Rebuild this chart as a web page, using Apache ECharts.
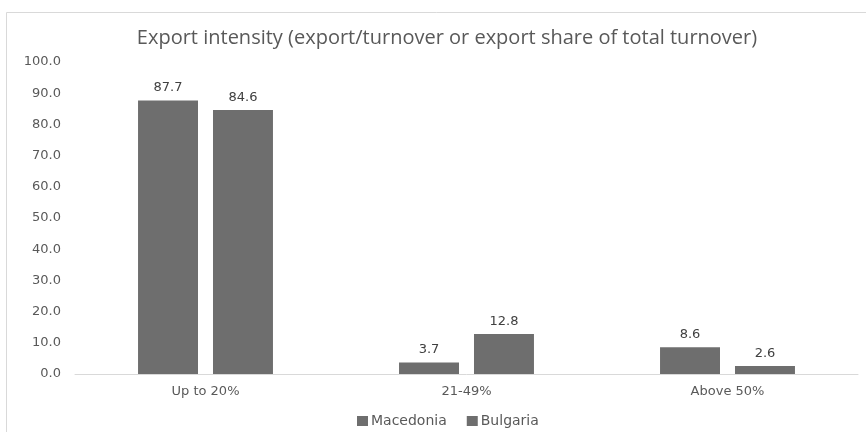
<!DOCTYPE html>
<html>
<head>
<meta charset="utf-8">
<script src="https://cdn.jsdelivr.net/npm/echarts@6/dist/echarts.min.js"></script>
<style>
  html, body { margin: 0; padding: 0; background: #ffffff; }
  #chart { width: 866px; height: 432px; }
</style>
</head>
<body>
<div id="chart"></div>
<script>
// Export intensity bands and the share of firms in each, by country
const categories = ['Up to 20%', '21-49%', 'Above 50%'];
const macedonia = [87.7, 3.7, 8.6];
const bulgaria = [84.6, 12.8, 2.6];
const yTicks = { min: 0, max: 100, interval: 10 };

const chart = echarts.init(document.getElementById('chart'), null, { renderer: 'canvas' });

const labelFont = 'DejaVu Sans, Verdana, sans-serif';
const textGrey = '#595959';
const barGrey = '#6e6e6e';

const valueLabel = {
  show: true,
  position: 'top',
  distance: 6,
  color: '#404040',
  fontFamily: labelFont,
  fontSize: 13,
  formatter: p => p.value.toFixed(1)
};

chart.setOption({
  animation: false,
  backgroundColor: '#ffffff',
  title: {
    text: 'Export intensity (export/turnover or export share of total turnover)',
    left: 442,
    textAlign: 'center',
    top: 23,
    textStyle: {
      fontFamily: 'Open Sans, Noto Sans, sans-serif',
      fontWeight: 'normal',
      fontSize: 20,
      color: textGrey
    }
  },
  graphic: [{
    type: 'rect',
    shape: { x: 6.5, y: 12.5, width: 900, height: 440 },
    style: { fill: 'none', stroke: '#d9d9d9', lineWidth: 1 },
    silent: true
  }],
  legend: {
    data: ['Macedonia', 'Bulgaria'],
    top: 409,
    left: 352,
    itemWidth: 11,
    itemHeight: 10,
    itemGap: 20,
    icon: 'rect',
    textStyle: { fontFamily: labelFont, fontSize: 14, color: textGrey, padding: [0, 0, 0, -2] }
  },
  grid: { left: 75, right: 8, top: 62, bottom: 58 },
  xAxis: {
    type: 'category',
    data: categories,
    axisLine: { lineStyle: { color: '#d9d9d9' } },
    axisTick: { show: false },
    axisLabel: { fontFamily: labelFont, fontSize: 13, color: textGrey, margin: 11 }
  },
  yAxis: {
    type: 'value',
    min: yTicks.min,
    max: yTicks.max,
    interval: yTicks.interval,
    axisLine: { show: false },
    axisTick: { show: false },
    splitLine: { show: false },
    axisLabel: {
      fontFamily: labelFont,
      fontSize: 13,
      color: textGrey,
      margin: 14,
      formatter: v => v.toFixed(1)
    }
  },
  series: [
    {
      name: 'Macedonia',
      type: 'bar',
      data: macedonia,
      barGap: '25%',
      barCategoryGap: '48.3%',
      itemStyle: { color: barGrey },
      label: valueLabel
    },
    {
      name: 'Bulgaria',
      type: 'bar',
      data: bulgaria,
      itemStyle: { color: barGrey },
      label: valueLabel
    }
  ]
});
</script>
</body>
</html>
